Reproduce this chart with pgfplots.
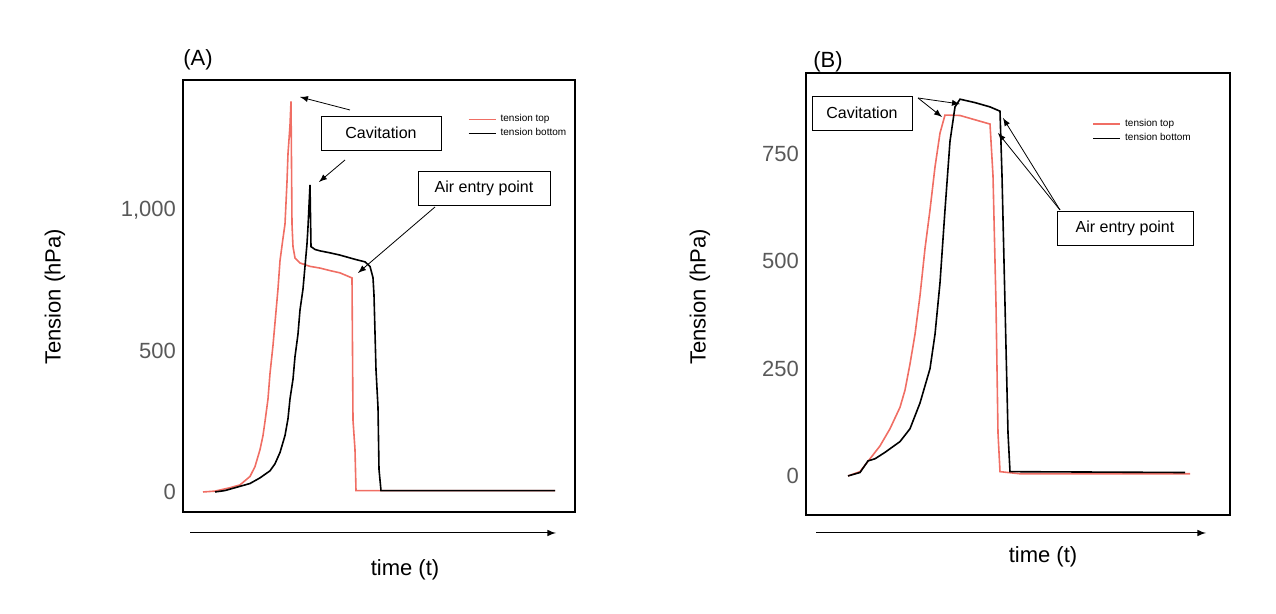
\documentclass[border=0pt]{standalone}
\usepackage{pgfplots}
\pgfplotsset{compat=1.18}
\usepackage{fontspec}
\setmainfont{Liberation Sans}
\newcommand\PX[2]{({#1*0.5pt},{(614-#2)*0.5pt})}
\begin{document}
\begin{tikzpicture}
\path[use as bounding box] (0,0) rectangle (638pt,307pt);
\pgfplotsset{every axis/.style={scale only axis, clip=false, axis line style={black, line width=0.6pt},
  xtick=\empty, major tick length=0pt, /pgf/number format/assume math mode=true,
  yticklabel style={font=\fontsize{11}{13}\selectfont, text=black!65},
  legend cell align=left, legend style={draw=none, fill=none, font=\fontsize{5}{6}\selectfont, row sep=-2pt},
  legend image post style={xscale=0.8}}}
% Panel A
\begin{axis}[at={(91.5pt,51pt)}, anchor=south west, width=196pt, height=216pt,
  xmin=183, xmax=575, ymin=-71, ymax=1461, ytick={0,500,1000},
  legend style={at={(0.71,0.94)}, anchor=north west}]
\addplot[color={rgb,255:red,240;green,110;blue,100}, line width=0.8pt] coordinates {
(203,0)(215,3)(230,15)(240,25)(250,55)(255,90)(260,150)(263,200)(265,250)(268,330)(270,420)(273,520)(275,600)(278,720)(280,820)(283,900)(285,950)(287,1100)(288,1200)(290,1300)(291,1385)(292,950)(293,870)(295,830)(300,812)(310,800)(320,794)(330,785)(340,777)(352,759)(353,255)(355,150)(356,5)(555,5)};
\addlegendentry{tension top}
\addplot[black, line width=0.8pt] coordinates {
(215,0)(225,5)(240,20)(250,30)(260,50)(270,75)(275,100)(280,140)(285,200)(288,260)(290,330)(293,400)(295,480)(298,560)(300,645)(303,720)(305,800)(307,880)(308,940)(310,1089)(311,870)(315,860)(320,855)(330,848)(340,840)(355,825)(365,816)(370,800)(373,760)(374,698)(376,433)(378,300)(379,80)(381,5)(555,5)};
\addlegendentry{tension bottom}
\end{axis}
% Panel B
\begin{axis}[at={(403pt,49.5pt)}, anchor=south west, width=212pt, height=221pt,
  xmin=806, xmax=1230, ymin=-91, ymax=939, ytick={0,250,500,750},
  legend style={at={(0.66,0.915)}, anchor=north west}]
\addplot[color={rgb,255:red,240;green,110;blue,100}, line width=0.8pt] coordinates {
(848,0)(860,10)(870,40)(880,70)(890,110)(900,160)(905,200)(910,261)(915,330)(920,420)(925,530)(930,620)(935,720)(940,799)(945,841)(960,840)(975,830)(990,820)(993,700)(996,400)(998,100)(1000,10)(1020,5)(1190,5)};
\addlegendentry{tension top}
\addplot[black, line width=0.8pt] coordinates {
(848,0)(860,8)(868,35)(875,40)(885,55)(900,80)(910,110)(920,170)(930,250)(935,330)(940,450)(945,620)(950,780)(955,860)(960,878)(975,870)(990,860)(1000,850)(1002,700)(1005,400)(1008,100)(1010,10)(1185,8)};
\addlegendentry{tension bottom}
\end{axis}
% labels
\node[font=\fontsize{11}{13}\selectfont] at \PX{198}{60} {(A)};
\node[font=\fontsize{11}{13}\selectfont] at \PX{828}{62} {(B)};
\node[rotate=90, font=\fontsize{11}{13}\selectfont] at \PX{55}{297} {Tension (hPa)};
\node[rotate=90, font=\fontsize{11}{13}\selectfont] at \PX{700}{297} {Tension (hPa)};
\node[font=\fontsize{11}{13}\selectfont] at \PX{405}{570} {time (t)};
\node[font=\fontsize{11}{13}\selectfont] at \PX{1043}{557} {time (t)};
\draw[-latex, line width=0.5pt] \PX{190}{533} -- \PX{556}{533};
\draw[-latex, line width=0.5pt] \PX{816}{533} -- \PX{1206}{533};
% annotations A
\node[draw, fill=white, font=\fontsize{8}{9}\selectfont, minimum width=60pt, minimum height=17pt] at \PX{381}{133} {Cavitation};
\draw[-latex, line width=0.4pt] \PX{350}{110} -- \PX{300}{97};
\draw[-latex, line width=0.4pt] \PX{345}{160} -- \PX{319}{182};
\node[draw, fill=white, font=\fontsize{8}{9}\selectfont, minimum width=66pt, minimum height=17pt] at \PX{484}{188} {Air entry point};
\draw[-latex, line width=0.4pt] \PX{435}{207} -- \PX{358}{273};
% annotations B
\node[draw, fill=white, font=\fontsize{8}{9}\selectfont, minimum width=50pt, minimum height=17pt] at \PX{862}{113} {Cavitation};
\draw[-latex, line width=0.4pt] \PX{918}{98} -- \PX{942}{117};
\draw[-latex, line width=0.4pt] \PX{918}{98} -- \PX{960}{104};
\node[draw, fill=white, font=\fontsize{8}{9}\selectfont, minimum width=68pt, minimum height=17pt] at \PX{1125}{228} {Air entry point};
\draw[-latex, line width=0.4pt] \PX{1060}{210} -- \PX{1003}{118};
\draw[-latex, line width=0.4pt] \PX{1060}{210} -- \PX{998}{133};
\end{tikzpicture}
\end{document}
